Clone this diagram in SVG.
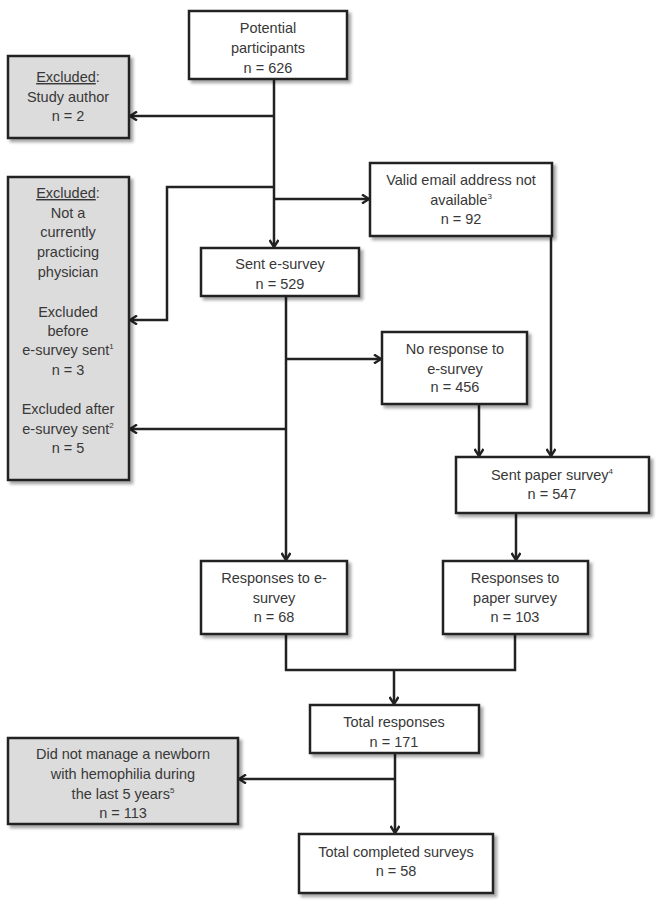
<svg xmlns="http://www.w3.org/2000/svg" width="661" height="904" viewBox="0 0 661 904">
<defs>
<filter id="sh" x="-10%" y="-10%" width="130%" height="130%">
<feDropShadow dx="3" dy="3" stdDeviation="1.5" flood-color="#000" flood-opacity="0.35"/>
</filter>
<marker id="ah" viewBox="0 0 10 10" refX="9" refY="5" markerWidth="10" markerHeight="10" markerUnits="userSpaceOnUse" orient="auto">
<path d="M2,0.5 L9,5 L2,9.5" fill="none" stroke="#222" stroke-width="2.4"/>
</marker>
</defs>
<style>
rect.b{fill:#fff;stroke:#222;stroke-width:2.5;filter:url(#sh)}
rect.g{fill:#dcdcdc;stroke:#222;stroke-width:2.5;filter:url(#sh)}
text{font-family:"Liberation Sans",Arial,sans-serif;font-size:14.5px;fill:#383838;text-anchor:middle}
.u{text-decoration:underline}
.c path{fill:none;stroke:#222;stroke-width:2.5}
.a{marker-end:url(#ah)}
</style>
<rect width="661" height="904" fill="#fff"/>
<g class="c" id="connectors">
<path class="a" d="M274,79 V247"/>
<path class="a" d="M274,116 H130"/>
<path class="a" d="M274,187 H167 V320 H130"/>
<path class="a" d="M274,199 H369"/>
<path class="a" d="M286,296 V560"/>
<path class="a" d="M286,359 H381"/>
<path class="a" d="M286,429 H130"/>
<path class="a" d="M479,404 V456"/>
<path class="a" d="M551,236 V456"/>
<path class="a" d="M516,513 V560"/>
<path d="M286,634 V670 H515 V634"/>
<path class="a" d="M394,670 V704"/>
<path class="a" d="M395,753 V833"/>
<path class="a" d="M395,779 H239"/>
</g>
<g id="potential">
<rect class="b" x="189" y="11" width="158" height="68"/>
<text x="268" y="33">Potential</text>
<text x="268" y="53">participants</text>
<text x="268" y="73">n = 626</text>
</g>
<g id="excl-author">
<rect class="g" x="8" y="56" width="121" height="82"/>
<text x="68" y="82"><tspan class="u">Excluded</tspan>:</text>
<text x="68" y="102">Study author</text>
<text x="68" y="121">n = 2</text>
</g>
<g id="excl-phys">
<rect class="g" x="8" y="177" width="121" height="303"/>
<text x="68" y="198"><tspan class="u">Excluded</tspan>:</text>
<text x="68" y="218">Not  a</text>
<text x="68" y="237">currently</text>
<text x="68" y="257">practicing</text>
<text x="68" y="277">physician</text>
<text x="68" y="317">Excluded</text>
<text x="68" y="336">before</text>
<text x="68" y="355">e-survey sent<tspan font-size="8" dy="-6">1</tspan></text>
<text x="68" y="375">n = 3</text>
<text x="68" y="414">Excluded after</text>
<text x="68" y="434">e-survey sent<tspan font-size="8" dy="-6">2</tspan></text>
<text x="68" y="453">n = 5</text>
</g>
<g id="valid-email">
<rect class="b" x="370" y="163" width="182" height="73"/>
<text x="461" y="185">Valid email address not</text>
<text x="461" y="205">available<tspan font-size="8" dy="-6">3</tspan></text>
<text x="461" y="224">n = 92</text>
</g>
<g id="sent-esurvey">
<rect class="b" x="201" y="248" width="158" height="48"/>
<text x="280" y="269">Sent e-survey</text>
<text x="280" y="289">n = 529</text>
</g>
<g id="no-response">
<rect class="b" x="382" y="332" width="145" height="72"/>
<text x="455" y="354">No response to</text>
<text x="455" y="374">e-survey</text>
<text x="455" y="392">n = 456</text>
</g>
<g id="sent-paper">
<rect class="b" x="456" y="457" width="193" height="56"/>
<text x="552" y="480">Sent paper survey<tspan font-size="8" dy="-6">4</tspan></text>
<text x="552" y="499">n = 547</text>
</g>
<g id="resp-esurvey">
<rect class="b" x="201" y="561" width="146" height="73"/>
<text x="274" y="583">Responses to e-</text>
<text x="274" y="603">survey</text>
<text x="274" y="622">n = 68</text>
</g>
<g id="resp-paper">
<rect class="b" x="443" y="561" width="145" height="73"/>
<text x="515" y="583">Responses to</text>
<text x="515" y="603">paper survey</text>
<text x="515" y="622">n = 103</text>
</g>
<g id="total-responses">
<rect class="b" x="310" y="705" width="169" height="48"/>
<text x="394" y="727">Total responses</text>
<text x="394" y="747">n = 171</text>
</g>
<g id="not-managed">
<rect class="g" x="8" y="738" width="230" height="86"/>
<text x="123" y="759">Did not manage a newborn</text>
<text x="123" y="779">with hemophilia during</text>
<text x="123" y="799">the last 5 years<tspan font-size="8" dy="-6">5</tspan></text>
<text x="123" y="818">n = 113</text>
</g>
<g id="total-completed">
<rect class="b" x="299" y="834" width="194" height="59"/>
<text x="396" y="857">Total completed surveys</text>
<text x="396" y="876">n = 58</text>
</g>
</svg>
